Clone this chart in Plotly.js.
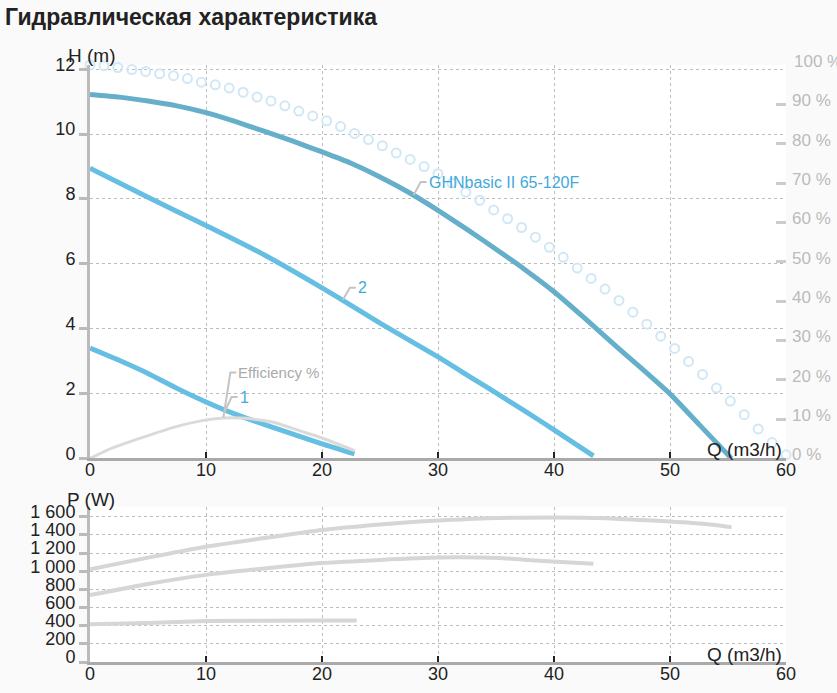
<!DOCTYPE html>
<html>
<head>
<meta charset="utf-8">
<script src="https://cdn.plot.ly/plotly-3.0.1.min.js"></script>
<style>
  html, body { margin: 0; padding: 0; background: #fafafa; }
  #chart { width: 837px; height: 693px; }
</style>
</head>
<body>
<div id="chart"></div>
<script>
// pump curve GHNbasic II 65-120F, speed 3
const flowMain = [0, 2.5, 5, 7.5, 10, 12.5, 15, 17.5, 20, 22.5, 25, 27.5, 30, 32.5, 35, 37.5, 40, 42.5, 45, 47.5, 50, 52.5, 55.3];
const headMain = [11.22, 11.14, 11.02, 10.87, 10.66, 10.39, 10.09, 9.78, 9.45, 9.10, 8.68, 8.20, 7.65, 7.06, 6.45, 5.82, 5.14, 4.37, 3.57, 2.79, 1.99, 1.05, 0.0];

// speed 2
const flow2 = [0, 5, 10, 15, 20, 22.5, 25, 30, 33, 35, 37.5, 40, 43.4];
const head2 = [8.95, 8.05, 7.18, 6.28, 5.26, 4.72, 4.17, 3.13, 2.46, 2.02, 1.46, 0.88, 0.08];

// speed 1
const flow1 = [0, 2.6, 5, 7.5, 10, 12.4, 15, 20, 22.8];
const head1 = [3.40, 3.01, 2.62, 2.16, 1.74, 1.38, 1.05, 0.45, 0.14];

// efficiency %, right axis
const flowEff = [0, 1.4, 2.9, 5, 7.2, 10, 11.5, 13.5, 15.8, 18.1, 20, 22.8];
const effPct = [0, 2.0, 3.7, 5.8, 7.9, 9.8, 10.3, 10.2, 9.2, 7.0, 5.2, 2.0];

// dotted envelope
const flowDots = [0, 1.2, 2.4, 3.6, 4.8, 6, 7.2, 8.4, 9.6, 10.8, 12, 13.2, 14.4, 15.6, 16.8, 18, 19.2, 20.4, 21.6, 22.8,
                  24, 25.2, 26.4, 27.6, 28.8, 30, 31.2, 32.4, 33.6, 34.8, 36, 37.2, 38.4, 39.6, 40.8, 42, 43.2, 44.4, 45.6, 46.8,
                  48, 49.2, 50.4, 51.6, 52.8, 54, 55.2, 56.4, 57.6, 58.8, 60];
const headDots = [12.13, 12.11, 12.05, 11.99, 11.93, 11.86, 11.80, 11.71, 11.60, 11.52, 11.42, 11.29, 11.14, 11.02, 10.87, 10.71, 10.56, 10.41, 10.23, 10.02,
                  9.83, 9.64, 9.42, 9.22, 9.00, 8.78, 8.49, 8.21, 7.96, 7.66, 7.39, 7.12, 6.82, 6.51, 6.20, 5.87, 5.55, 5.22, 4.87, 4.51,
                  4.14, 3.77, 3.39, 2.99, 2.59, 2.17, 1.77, 1.35, 0.91, 0.49, 0.11];

// power input, W
const flowP1 = [0, 5, 10, 15, 20, 25, 28.4, 30, 34.2, 40, 44.5, 48.6, 50, 52.9, 55.3];
const powerP1 = [1020, 1150, 1270, 1365, 1455, 1515, 1548, 1558, 1585, 1592, 1585, 1558, 1548, 1523, 1486];
const flowP2 = [0, 5, 10, 15, 20, 25, 30, 35.3, 38.4, 41.4, 43.4];
const powerP2 = [737, 860, 960, 1030, 1090, 1125, 1151, 1145, 1118, 1096, 1082];
const flowP3 = [0, 5, 10, 20, 23];
const powerP3 = [416, 430, 452, 456, 456];

const headTicks = [0, 2, 4, 6, 8, 10, 12];
const pctTicks = [0, 10, 20, 30, 40, 50, 60, 70, 80, 90];
const pctTickText = ['0 %', '10 %', '20 %', '30 %', '40 %', '50 %', '60 %', '70 %', '80 %', '90 %'];
const powerTicks = [0, 200, 400, 600, 800, 1000, 1200, 1400, 1600];
const powerTickText = ['0', '200', '400', '600', '800', '1 000', '1 200', '1 400', '1 600'];

// curve labels: text, Q, value, axis
const labelText = ['GHNbasic II 65-120F', '2', '1', 'Efficiency %'];
const labelQ = [27.9, 21.8, 11.6, 11.5];
const labelVal = [8.12, 4.89, 1.43, 10.4];
const labelAxis = ['y', 'y', 'y', 'y2'];

const FONT = 'Arial, "Liberation Sans", sans-serif';
const GRID = '#bdbdbd';
const BLUE_DARK = '#66afcb';
const BLUE = '#66bfe2';
const LABEL_BLUE = '#3fa9dc';
const GREY_LINE = '#d6d6d6';

function lineTrace(x, y, color, width, yaxis, xaxis) {
    return {
        x: x, y: y,
        mode: 'lines', type: 'scatter',
        xaxis: xaxis || 'x', yaxis: yaxis || 'y',
        line: { color: color, width: width, shape: 'spline', smoothing: 0.5 },
        hoverinfo: 'skip'
    };
}

function qAxis(anchor) {
    return {
        anchor: anchor,
        range: [0, 60],
        dtick: 10,
        showgrid: true, gridcolor: GRID, griddash: 'dot', gridwidth: 1,
        zeroline: false,
        showline: true, linecolor: '#aaa', linewidth: 3,
        ticks: 'inside', ticklen: 6, tickwidth: 2, tickcolor: '#222',
        ticklabelstandoff: -7,
        tickfont: { family: FONT, size: 18, color: '#222' }
    };
}

function leftAxis(domain, range, vals, text) {
    return {
        domain: domain, range: range,
        tickvals: vals, ticktext: text,
        showgrid: true, gridcolor: GRID, griddash: 'dot', gridwidth: 1,
        zeroline: false,
        showline: true, linecolor: '#bbb', linewidth: 3,
        ticks: 'outside', ticklen: 8, tickwidth: 3, tickcolor: '#bbb',
        ticklabelshift: -5,
        tickfont: { family: FONT, size: 18, color: '#222' }
    };
}

function tickOverlay(over, range, vals) {
    // second tick set so the marks cross the axis line
    return {
        overlaying: over, range: range, tickvals: vals,
        ticks: 'inside', ticklen: 8, tickwidth: 3, tickcolor: '#bbb',
        showticklabels: false, showgrid: false, zeroline: false, showline: false
    };
}

function buildLabels() {
    const shapes = [], notes = [];
    for (let i = 0; i < labelText.length; i++) {
        const rise = i === 3 ? 45 : (i === 0 ? 13 : (i === 1 ? 12 : 15));
        const isEff = labelAxis[i] === 'y2';
        shapes.push({
            type: 'path', xref: 'x', yref: labelAxis[i],
            xsizemode: 'pixel', ysizemode: 'pixel',
            xanchor: labelQ[i], yanchor: labelVal[i],
            path: `M0,0L7,${rise}L13,${rise}`,
            line: { color: '#c4c4c4', width: 2 }
        });
        notes.push({
            x: labelQ[i], y: labelVal[i], xref: 'x', yref: labelAxis[i],
            text: labelText[i], showarrow: false,
            xanchor: 'left', yanchor: 'middle',
            xshift: 13, yshift: rise,
            font: { family: FONT, size: isEff ? 15 : 16, color: isEff ? '#aaa' : LABEL_BLUE }
        });
    }
    return { shapes, notes };
}

function renderChart() {
    const traces = [
        {
            x: flowDots, y: headDots, mode: 'markers', type: 'scatter',
            marker: { symbol: 'circle-open', size: 9, color: '#d0e8f5', line: { width: 2, color: '#d0e8f5' } },
            cliponaxis: false, hoverinfo: 'skip'
        },
        lineTrace(flowMain, headMain, BLUE_DARK, 5),
        lineTrace(flow2, head2, BLUE, 5),
        lineTrace(flow1, head1, BLUE, 5),
        lineTrace(flowEff, effPct, '#dadada', 3, 'y2'),
        lineTrace(flowP1, powerP1, GREY_LINE, 4, 'y3', 'x2'),
        lineTrace(flowP2, powerP2, GREY_LINE, 4, 'y3', 'x2'),
        lineTrace(flowP3, powerP3, GREY_LINE, 4, 'y3', 'x2')
    ];

    const lbl = buildLabels();
    const axisNote = { family: FONT, size: 19, color: '#222' };

    const annotations = lbl.notes.concat([
        { xref: 'paper', yref: 'paper', x: -0.034, y: 1.016, xanchor: 'left', yanchor: 'middle',
          text: 'H (m)', showarrow: false, font: axisNote },
        { xref: 'paper', yref: 'paper', x: -0.036, y: 0.272, xanchor: 'left', yanchor: 'middle',
          text: 'P (W)', showarrow: false, font: axisNote },
        { xref: 'paper', yref: 'paper', x: 0.997, y: 0.356, xanchor: 'right', yanchor: 'middle',
          text: 'Q (m3/h)', showarrow: false, font: axisNote },
        { xref: 'paper', yref: 'paper', x: 0.997, y: 0.013, xanchor: 'right', yanchor: 'middle',
          text: 'Q (m3/h)', showarrow: false, font: axisNote },
        { xref: 'paper', yref: 'y2', x: 1.008, y: 100, xanchor: 'left', yanchor: 'middle', yshift: 4,
          text: '100 %', showarrow: false, font: { family: FONT, size: 17, color: '#bbb' } }
    ]);

    const layout = {
        width: 837, height: 693,
        margin: { l: 90, r: 51, t: 65, b: 31 },
        paper_bgcolor: '#fafafa',
        plot_bgcolor: '#ffffff',
        showlegend: false,
        title: {
            text: 'Гидравлическая характеристика',
            xref: 'container', x: 5 / 837, xanchor: 'left',
            y: 1 - 17 / 693, yanchor: 'middle',
            font: { family: FONT, size: 23, weight: 'bold', color: '#222' }
        },
        xaxis: qAxis('y'),
        xaxis2: qAxis('y3'),
        yaxis: leftAxis([0.341, 1], [0, 12.13], headTicks),
        yaxis2: {
            overlaying: 'y', side: 'right', range: [0, 100],
            tickvals: pctTicks, ticktext: pctTickText,
            ticks: 'inside', ticklen: 10, tickwidth: 3, tickcolor: '#ccc',
            ticklabelshift: -4, ticklabelstandoff: 5,
            showgrid: false, zeroline: false, showline: false,
            tickfont: { family: FONT, size: 17, color: '#bbb' }
        },
        yaxis3: Object.assign(leftAxis([0, 0.26], [0, 1710], powerTicks, powerTickText), { anchor: 'x2' }),
        yaxis4: tickOverlay('y', [0, 12.13], headTicks),
        yaxis5: Object.assign(tickOverlay('y3', [0, 1710], powerTicks), { anchor: 'x2' }),
        shapes: lbl.shapes,
        annotations: annotations
    };
    layout.yaxis.anchor = 'x';

    Plotly.newPlot('chart', traces, layout, { staticPlot: true });
}

renderChart();
</script>
</body>
</html>
